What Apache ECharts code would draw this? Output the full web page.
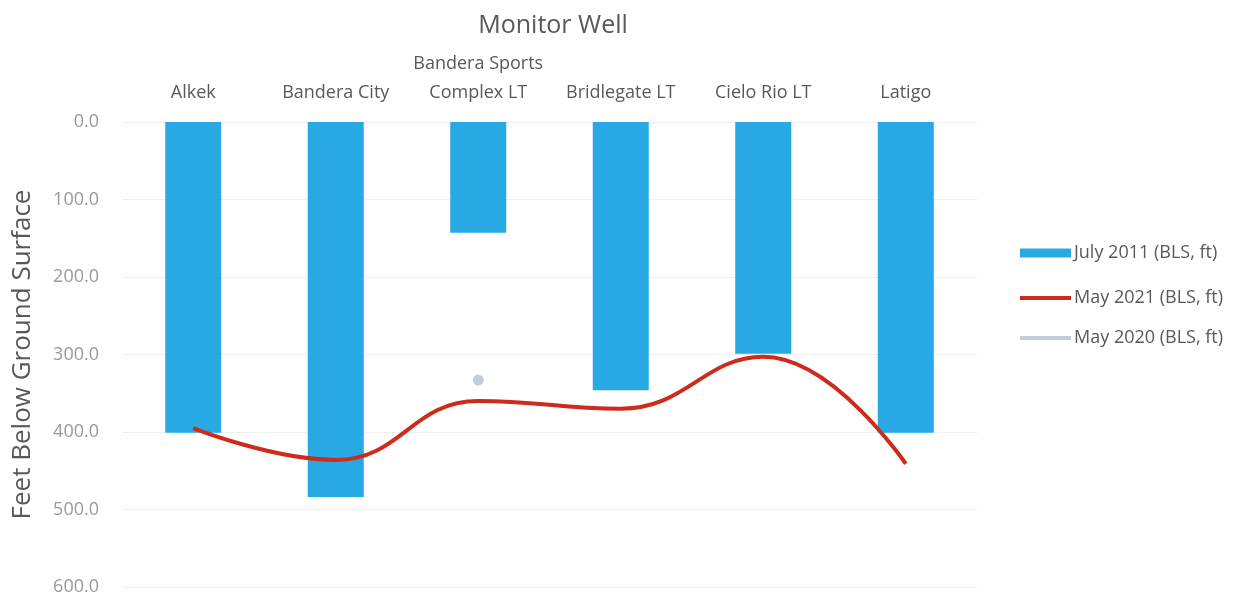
<!DOCTYPE html>
<html>
<head>
<meta charset="utf-8">
<script src="https://cdn.jsdelivr.net/npm/echarts@6/dist/echarts.min.js"></script>
<style>
  html, body { margin: 0; padding: 0; background: #fff; }
  #chart { width: 1255px; height: 597px; }
</style>
</head>
<body>
<div id="chart"></div>
<script>
const wells = ['Alkek', 'Bandera City', 'Bandera Sports\nComplex LT', 'Bridlegate LT', 'Cielo Rio LT', 'Latigo'];
const july2011 = [401, 484, 143, 346, 299, 401];
const may2021 = [395, 436, 360, 370, 303, 441];
const may2020 = [null, null, 333, null, null, null];
const yTicks = [0, 100, 200, 300, 400, 500, 600];

const font = '"Open Sans", sans-serif';
const chart = echarts.init(document.getElementById('chart'));

const option = {
  animation: false,
  title: {
    text: 'Monitor Well',
    left: 548,
    textAlign: 'center',
    top: 8,
    textStyle: { fontFamily: font, fontSize: 25, fontWeight: 'normal', color: '#595959' }
  },
  legend: [
    {
      orient: 'vertical',
      left: 1015,
      top: 239,
      itemWidth: 51,
      itemHeight: 9,
      itemGap: 23,
      icon: 'rect',
      textStyle: { fontFamily: font, fontSize: 18, color: '#595959', padding: [0, 0, 0, -2] },
      data: ['July 2011 (BLS, ft)']
    },
    {
      orient: 'vertical',
      left: 1015,
      top: 284,
      itemWidth: 51,
      itemHeight: 4,
      itemGap: 22,
      icon: 'rect',
      textStyle: { fontFamily: font, fontSize: 18, color: '#595959', padding: [0, 0, 0, -2] },
      data: ['May 2021 (BLS, ft)', 'May 2020 (BLS, ft)']
    }
  ],
  grid: { left: 122, right: 278, top: 122, bottom: 10 },
  xAxis: {
    type: 'category',
    position: 'top',
    data: wells,
    axisLine: { show: false },
    axisTick: { show: false },
    axisLabel: {
      margin: 15,
      interval: 0,
      fontFamily: font,
      fontSize: 18,
      lineHeight: 29,
      color: '#595959'
    }
  },
  yAxis: {
    type: 'value',
    inverse: true,
    min: yTicks[0],
    max: yTicks[yTicks.length - 1],
    interval: 100,
    name: 'Feet Below Ground Surface',
    nameLocation: 'middle',
    nameGap: 86,
    nameTextStyle: { fontFamily: font, fontSize: 26, color: '#595959' },
    axisLine: { show: false },
    axisTick: { show: false },
    axisLabel: {
      margin: 23,
      fontFamily: font,
      fontSize: 18,
      color: '#999999',
      formatter: v => v.toFixed(1)
    },
    splitLine: { lineStyle: { color: '#efefef', width: 1 } }
  },
  series: [
    {
      name: 'July 2011 (BLS, ft)',
      type: 'bar',
      data: july2011,
      barWidth: 56,
      itemStyle: { color: '#29a9e4' }
    },
    {
      name: 'May 2021 (BLS, ft)',
      type: 'line',
      data: may2021,
      smooth: 0.45,
      symbol: 'none',
      lineStyle: { color: '#cc2b1d', width: 4 },
      itemStyle: { color: '#cc2b1d' }
    },
    {
      name: 'May 2020 (BLS, ft)',
      type: 'line',
      data: may2020,
      symbol: 'circle',
      symbolSize: 11,
      lineStyle: { color: '#cdd9e5', width: 3 },
      itemStyle: { color: '#c3cdd6' }
    }
  ]
};

chart.setOption(option);
</script>
</body>
</html>
